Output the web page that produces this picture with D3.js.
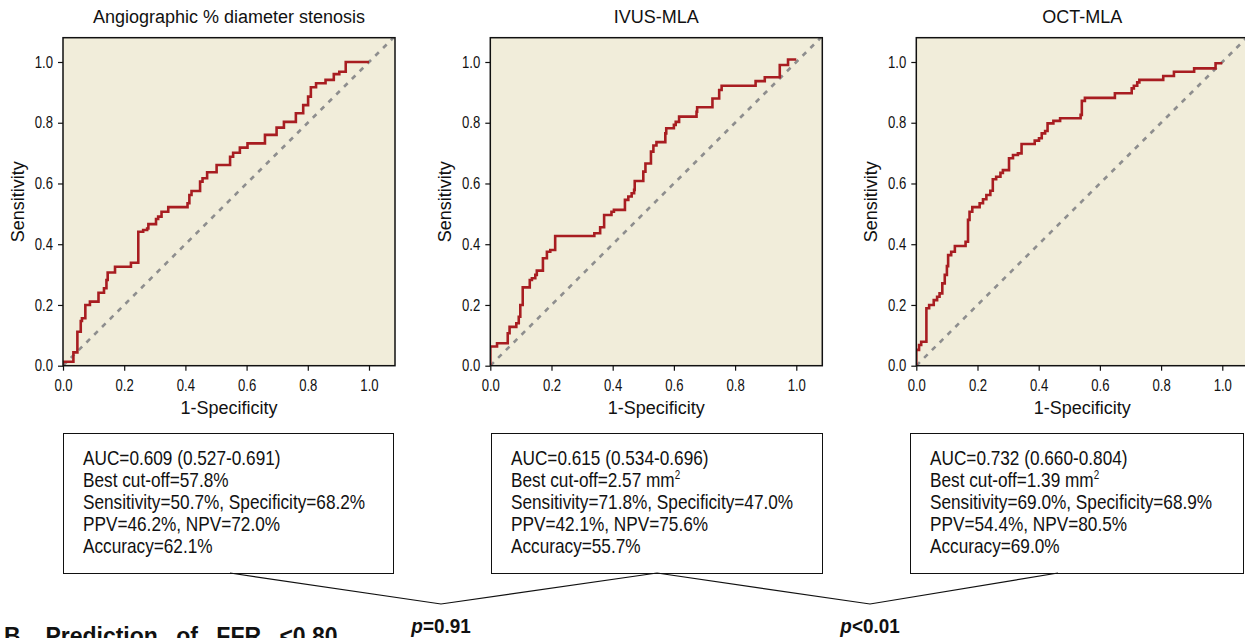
<!DOCTYPE html>
<html>
<head>
<meta charset="utf-8">
<script src="https://cdn.jsdelivr.net/npm/d3@7/dist/d3.min.js"></script>
<style>
    body { margin: 0; background: #ffffff; }
    .panelTitle { font-family: "Liberation Sans", Arial, sans-serif; font-size: 18px; fill: #111; }
    .axisTitle { font-family: "Liberation Sans", Arial, sans-serif; font-size: 18px; fill: #111; }
    .axis text { font-family: "Liberation Sans", Arial, sans-serif; font-size: 16px; fill: #111; }
    .axis line { stroke: #111; stroke-width: 1.2; }
    .axis path { display: none; }
    .plotBg { fill: #f1edda; }
    .plotFrame { fill: none; stroke: #111; stroke-width: 1.5; }
    .refLine { fill: none; stroke: #8e8e8e; stroke-width: 2.6; stroke-dasharray: 5,6; }
    .rocLine { fill: none; stroke: #a81d21; stroke-width: 2.6; }
    .statBox { fill: #fff; stroke: #111; stroke-width: 1; }
    .statText { font-family: "Liberation Sans", Arial, sans-serif; font-size: 21px; fill: #111; }
    .connector { fill: none; stroke: #111; stroke-width: 1.2; }
    .pLabel { font-family: "Liberation Sans", Arial, sans-serif; font-size: 21px; font-weight: bold; fill: #111; }
    .sectionTitle { font-family: "Liberation Sans", Arial, sans-serif; font-size: 23px; font-weight: bold; word-spacing: 12px; fill: #111; }
</style>
</head>
<body>
<script>
(function () {

    //panel titles
    var panelTitles = ["Angiographic % diameter stenosis", "IVUS-MLA", "OCT-MLA"];

    //ROC step points [1-specificity, sensitivity]
    var angioRoc = [[0,0],[0,0.013],[0.034,0.044],[0.047,0.112],[0.058,0.147],[0.062,0.156],[0.073,0.200],
        [0.088,0.211],[0.116,0.240],[0.134,0.255],[0.142,0.282],[0.146,0.307],[0.170,0.326],[0.222,0.339],
        [0.246,0.441],[0.262,0.447],[0.275,0.452],[0.279,0.466],[0.304,0.483],[0.311,0.491],[0.322,0.507],
        [0.344,0.522],[0.407,0.535],[0.413,0.562],[0.420,0.575],[0.448,0.606],[0.456,0.617],[0.471,0.637],
        [0.502,0.661],[0.546,0.688],[0.556,0.701],[0.578,0.718],[0.603,0.732],[0.660,0.760],[0.698,0.784],
        [0.722,0.803],[0.761,0.831],[0.785,0.858],[0.801,0.886],[0.810,0.917],[0.827,0.930],[0.858,0.941],
        [0.885,0.960],[0.903,0.968],[0.924,1.000],[1.000,1.000]];

    var ivusRoc = [[0,0],[0,0.063],[0.022,0.074],[0.057,0.107],[0.063,0.128],[0.085,0.140],[0.093,0.161],
        [0.098,0.200],[0.106,0.258],[0.129,0.282],[0.136,0.288],[0.147,0.299],[0.152,0.313],[0.172,0.354],
        [0.185,0.375],[0.196,0.381],[0.212,0.427],[0.340,0.436],[0.359,0.456],[0.372,0.496],[0.396,0.507],
        [0.404,0.513],[0.440,0.546],[0.451,0.557],[0.462,0.568],[0.470,0.579],[0.472,0.608],[0.500,0.639],
        [0.507,0.666],[0.525,0.705],[0.533,0.725],[0.543,0.736],[0.572,0.765],[0.575,0.782],[0.600,0.793],
        [0.606,0.803],[0.617,0.820],[0.674,0.836],[0.676,0.851],[0.726,0.880],[0.748,0.908],[0.756,0.922],
        [0.867,0.937],[0.897,0.950],[0.946,0.990],[0.973,1.008],[1.000,1.008]];

    var octRoc = [[0,0],[0,0.052],[0.009,0.068],[0.016,0.079],[0.033,0.189],[0.042,0.200],[0.057,0.216],
        [0.068,0.227],[0.076,0.238],[0.085,0.271],[0.093,0.299],[0.100,0.328],[0.104,0.364],[0.114,0.375],
        [0.126,0.394],[0.161,0.408],[0.169,0.480],[0.174,0.507],[0.183,0.522],[0.207,0.535],[0.218,0.548],
        [0.229,0.562],[0.242,0.576],[0.250,0.614],[0.261,0.622],[0.275,0.635],[0.283,0.644],[0.303,0.683],
        [0.316,0.694],[0.332,0.699],[0.344,0.730],[0.387,0.741],[0.401,0.749],[0.410,0.765],[0.421,0.773],
        [0.429,0.798],[0.448,0.806],[0.470,0.815],[0.537,0.826],[0.541,0.872],[0.551,0.882],[0.649,0.897],
        [0.704,0.913],[0.711,0.922],[0.722,0.933],[0.729,0.941],[0.807,0.954],[0.842,0.968],[0.908,0.979],
        [0.978,0.996],[1.000,0.996]];

    //axis ticks
    var tickValues = [0, 0.2, 0.4, 0.6, 0.8, 1.0];

    //summary box lines
    var angioStats = ["AUC=0.609 (0.527-0.691)", "Best cut-off=57.8%", "Sensitivity=50.7%, Specificity=68.2%",
        "PPV=46.2%, NPV=72.0%", "Accuracy=62.1%"];
    var ivusStats = ["AUC=0.615 (0.534-0.696)", "Best cut-off=2.57 mm\u00b2", "Sensitivity=71.8%, Specificity=47.0%",
        "PPV=42.1%, NPV=75.6%", "Accuracy=55.7%"];
    var octStats = ["AUC=0.732 (0.660-0.804)", "Best cut-off=1.39 mm\u00b2", "Sensitivity=69.0%, Specificity=68.9%",
        "PPV=54.4%, NPV=80.5%", "Accuracy=69.0%"];

    //comparison p values
    var pValues = [["=", "0.91"], ["<", "0.01"]];

    var rocData = [angioRoc, ivusRoc, octRoc];
    var statData = [angioStats, ivusStats, octStats];

    //condensed look: no narrow font installed, so squeeze horizontally
    var narrow = 0.82;

    //layout
    var width = 1245, height = 638;
    var plotLeft = [63, 490.3, 916.3],
        plotWidth = 332,
        plotTop = 37.7,
        plotBottom = 365.7,
        xMax = 1.085,
        yMax = 1.08;
    var boxLeft = [63, 491, 910],
        boxWidth = [330, 331, 333],
        boxTop = 433,
        boxHeight = 140;

    var svg = d3.select("body")
        .append("svg")
        .attr("width", width)
        .attr("height", height);

    for (var i = 0; i < 3; i++) {
        drawPanel(i);
        drawBox(i);
    }

    //connector lines between the boxes
    var connectors = [
        [[230, 573], [441, 604], [657, 573]],
        [[657, 573], [870, 604], [1058, 573]]
    ];
    svg.selectAll(".connector")
        .data(connectors)
        .enter()
        .append("path")
        .attr("class", "connector")
        .attr("d", d3.line());

    //p value labels
    var pLabel = svg.selectAll(".pLabel")
        .data(pValues)
        .enter()
        .append("text")
        .attr("class", "pLabel")
        .attr("transform", function(d, i){
            return "translate(" + connectors[i][1][0] + ",633) scale(0.9,1)";
        })
        .attr("text-anchor", "middle");
    pLabel.append("tspan").style("font-style", "italic").text("p");
    pLabel.append("tspan").text(function(d){ return d[0] + d[1]; });

    //section heading, cut by the bottom edge
    svg.append("text")
        .attr("class", "sectionTitle")
        .attr("x", 4)
        .attr("y", 644)
        .text("B. Prediction of FFR <0.80");

    function drawPanel(i){
        var g = svg.append("g");

        var x = d3.scaleLinear()
            .domain([0, xMax])
            .range([plotLeft[i], plotLeft[i] + plotWidth]);
        var y = d3.scaleLinear()
            .domain([0, yMax])
            .range([plotBottom, plotTop]);

        //clip to the plot frame
        var clipId = "clip" + i;
        g.append("clipPath")
            .attr("id", clipId)
            .append("rect")
            .attr("x", x(0))
            .attr("y", y(yMax))
            .attr("width", x(xMax) - x(0))
            .attr("height", y(0) - y(yMax));

        g.append("rect")
            .attr("class", "plotBg")
            .attr("x", x(0))
            .attr("y", y(yMax))
            .attr("width", x(xMax) - x(0))
            .attr("height", y(0) - y(yMax));

        //chance diagonal
        g.append("path")
            .datum([[0, 0], [yMax, yMax]])
            .attr("class", "refLine")
            .attr("clip-path", "url(#" + clipId + ")")
            .attr("d", d3.line()
                .x(function(d){ return x(d[0]); })
                .y(function(d){ return y(d[1]); }));

        //ROC curve
        g.append("path")
            .datum(rocData[i])
            .attr("class", "rocLine")
            .attr("clip-path", "url(#" + clipId + ")")
            .attr("d", d3.line()
                .curve(d3.curveStepAfter)
                .x(function(d){ return x(d[0]); })
                .y(function(d){ return y(d[1]); }));

        g.append("rect")
            .attr("class", "plotFrame")
            .attr("x", x(0))
            .attr("y", y(yMax))
            .attr("width", x(xMax) - x(0))
            .attr("height", y(0) - y(yMax));

        //axes
        var xAxis = g.append("g")
            .attr("class", "axis")
            .attr("transform", "translate(0," + plotBottom + ")")
            .call(d3.axisBottom(x).tickValues(tickValues).tickFormat(d3.format(".1f"))
                .tickSize(5).tickPadding(9));
        xAxis.selectAll("text").attr("transform", "scale(" + narrow + ",1)");

        var yAxis = g.append("g")
            .attr("class", "axis")
            .attr("transform", "translate(" + plotLeft[i] + ",0)")
            .call(d3.axisLeft(y).tickValues(tickValues).tickFormat(d3.format(".1f"))
                .tickSize(5).tickPadding(5));
        yAxis.selectAll("text")
            .attr("x", -10 / narrow)
            .attr("transform", "scale(" + narrow + ",1)");

        //titles
        var cx = plotLeft[i] + plotWidth / 2;
        g.append("text")
            .attr("class", "panelTitle")
            .attr("x", cx)
            .attr("y", 23)
            .attr("text-anchor", "middle")
            .text(panelTitles[i]);

        g.append("text")
            .attr("class", "axisTitle")
            .attr("x", cx)
            .attr("y", 414)
            .attr("text-anchor", "middle")
            .text("1-Specificity");

        g.append("text")
            .attr("class", "axisTitle")
            .attr("transform", "translate(" + (plotLeft[i] - 39) + "," + (plotTop + plotBottom) / 2 + ") rotate(-90)")
            .attr("text-anchor", "middle")
            .text("Sensitivity");
    }

    function drawBox(i){
        svg.append("rect")
            .attr("class", "statBox")
            .attr("x", boxLeft[i] + 0.5)
            .attr("y", boxTop + 0.5)
            .attr("width", boxWidth[i])
            .attr("height", boxHeight);

        var lines = svg.selectAll(".stat" + i)
            .data(statData[i])
            .enter()
            .append("text")
            .attr("class", "statText stat" + i)
            .attr("transform", function(d, k){
                return "translate(" + (boxLeft[i] + 20) + "," + (boxTop + 32 + k * 22) + ") scale(" + narrow + ",1)";
            });

        //superscript for mm²
        lines.each(function(d){
            var t = d3.select(this);
            if (d.slice(-1) == "\u00b2") {
                t.append("tspan").text(d.slice(0, -1));
                t.append("tspan").attr("dy", -8).style("font-size", "12px").text("2");
            } else {
                t.text(d);
            }
        });
    }

})();
</script>
</body>
</html>
